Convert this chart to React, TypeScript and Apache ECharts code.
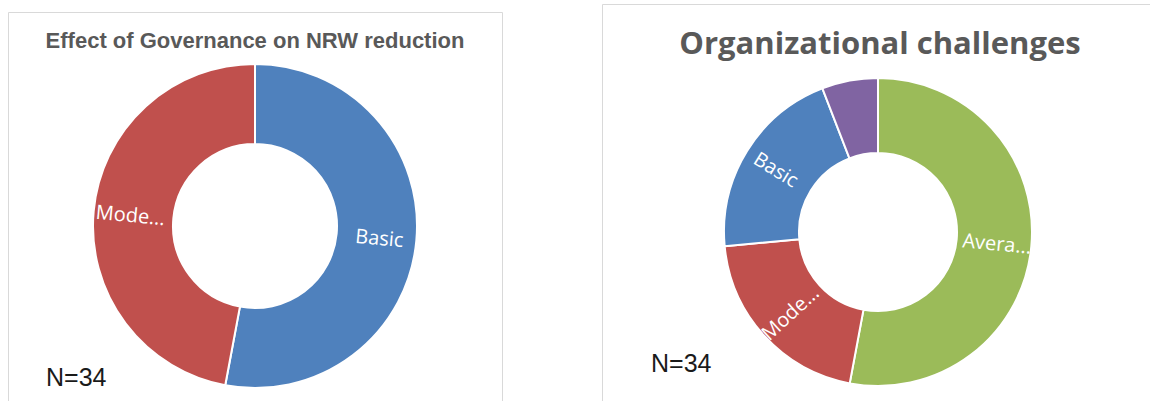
import React, { useEffect, useRef } from "react";
import * as echarts from "echarts";

// Left chart: Effect of Governance on NRW reduction
const leftTitle = "Effect of Governance on NRW reduction";
const leftCategories = ["Basic", "Moderate"];
const leftValues = [18, 16];
const leftLabels = ["Basic", "Mode..."];
const leftColors = ["#4F81BD", "#C0504D"];

// Right chart: Organizational challenges
const rightTitle = "Organizational challenges";
const rightCategories = ["Average", "Moderate", "Basic", "Advanced"];
const rightValues = [18, 7, 7, 2];
const rightLabels = ["Avera...", "Mode...", "Basic", ""];
const rightColors = ["#9BBB59", "#C0504D", "#4F81BD", "#8064A2"];

const sampleNote = "N=34";

function makePie(
  name: string,
  cats: string[],
  vals: number[],
  labels: string[],
  colors: string[],
  center: [number, number],
  radius: [number, number]
) {
  return {
    type: "pie",
    name,
    center,
    radius,
    startAngle: 90,
    clockwise: true,
    silent: true,
    avoidLabelOverlap: false,
    itemStyle: { borderColor: "#ffffff", borderWidth: 2 },
    label: {
      show: true,
      position: "inside",
      rotate: "radial",
      color: "#ffffff",
      fontFamily: "Open Sans",
      fontSize: 20,
      formatter: (p: any) => labels[p.dataIndex],
    },
    labelLine: { show: false },
    emphasis: { disabled: true },
    data: cats.map((c, i) => ({
      name: c,
      value: vals[i],
      itemStyle: { color: colors[i] },
    })),
  };
}

export default function App() {
  const ref = useRef<HTMLDivElement>(null);
  useEffect(() => {
    if (!ref.current) return;
    const chart = echarts.init(ref.current, null, { renderer: "svg" });
    chart.setOption({
      animation: false,
      backgroundColor: "#ffffff",
      graphic: [
        {
          type: "rect",
          shape: { x: 8.5, y: 12.5, width: 494, height: 420 },
          style: { fill: "none", stroke: "#d9d9d9", lineWidth: 1 },
          silent: true,
        },
        {
          type: "rect",
          shape: { x: 602.5, y: 4.5, width: 600, height: 420 },
          style: { fill: "none", stroke: "#d9d9d9", lineWidth: 1 },
          silent: true,
        },
        {
          type: "text",
          x: 255,
          y: 40,
          style: {
            text: leftTitle,
            fill: "#595959",
            fontFamily: "Liberation Sans",
            fontWeight: "bold",
            fontSize: 22,
            align: "center",
            verticalAlign: "middle",
            textAlign: "center",
            textVerticalAlign: "middle",
          },
        },
        {
          type: "text",
          x: 880,
          y: 42,
          style: {
            text: rightTitle,
            fill: "#595959",
            fontFamily: "Open Sans",
            fontWeight: "bold",
            fontSize: 31,
            align: "center",
            verticalAlign: "middle",
            textAlign: "center",
            textVerticalAlign: "middle",
          },
        },
        {
          type: "text",
          x: 46,
          y: 377,
          style: {
            text: sampleNote,
            fill: "#1a1a1a",
            fontFamily: "Liberation Sans",
            fontSize: 25,
            align: "left",
            verticalAlign: "middle",
            textAlign: "left",
            textVerticalAlign: "middle",
          },
        },
        {
          type: "text",
          x: 651,
          y: 363,
          style: {
            text: sampleNote,
            fill: "#1a1a1a",
            fontFamily: "Liberation Sans",
            fontSize: 25,
            align: "left",
            verticalAlign: "middle",
            textAlign: "left",
            textVerticalAlign: "middle",
          },
        },
      ],
      series: [
        makePie(leftTitle, leftCategories, leftValues, leftLabels, leftColors, [255, 226], [82, 162]),
        makePie(rightTitle, rightCategories, rightValues, rightLabels, rightColors, [878, 232], [79, 154]),
      ],
    });
    return () => chart.dispose();
  }, []);
  return (
    <div
      ref={ref}
      style={{ position: "absolute", left: 0, top: 0, width: 1150, height: 401, background: "#fff" }}
    />
  );
}
